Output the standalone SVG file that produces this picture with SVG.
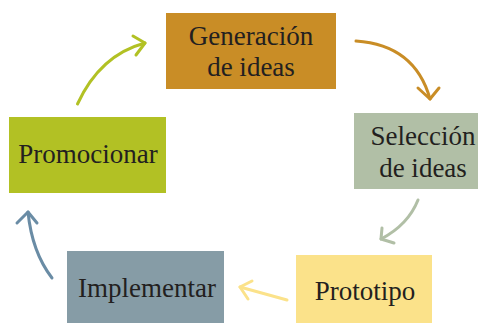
<svg xmlns="http://www.w3.org/2000/svg" width="478" height="323" viewBox="0 0 478 323">
<style>
.c{fill:none;stroke-width:3;stroke-linecap:round;stroke-linejoin:round}
</style>
<rect width="478" height="323" fill="#fff"/>
<g id="connectors">
<g stroke="#B2C124" class="c"><path d="M77.5 104 Q100 55 145 43"/><path d="M133 36 L145 43 L136 55"/></g>
<g stroke="#C98D26" class="c"><path d="M356 41 Q415 45 430 99"/><path d="M418 88 L430 99 L439 88"/></g>
<g stroke="#B1BFA6" class="c"><path d="M418 200 Q408 225 381 239"/><path d="M382 228 L381 239 L394 243"/></g>
<g stroke="#FBE28A" class="c"><path d="M287 300 L240 287"/><path d="M252 281 L240 287 L248 299"/></g>
<g stroke="#6A8CA5" class="c"><path d="M52 278 Q32 252 28 212"/><path d="M17 223 L28 212 L37 223"/></g>
</g>
<g id="generacion"><rect x="166" y="13" width="170" height="76" fill="#C98D26"/><text font-family="Liberation Serif" font-size="27" fill="#231f20" text-anchor="middle" x="251" y="45">Generación</text><text font-family="Liberation Serif" font-size="27" fill="#231f20" text-anchor="middle" x="251" y="76">de ideas</text></g>
<g id="seleccion"><rect x="354" y="113" width="126" height="76" fill="#B1BFA6"/><text font-family="Liberation Serif" font-size="27" fill="#231f20" text-anchor="middle" x="423" y="145">Selección</text><text font-family="Liberation Serif" font-size="27" fill="#231f20" text-anchor="middle" x="423" y="177">de ideas</text></g>
<g id="prototipo"><rect x="296" y="255" width="136" height="70" fill="#FBE28A"/><text font-family="Liberation Serif" font-size="27" fill="#231f20" text-anchor="middle" x="365" y="300">Prototipo</text></g>
<g id="implementar"><rect x="67" y="251" width="157" height="74" fill="#869CA6"/><text font-family="Liberation Serif" font-size="27" fill="#231f20" text-anchor="middle" x="147" y="297">Implementar</text></g>
<g id="promocionar"><rect x="9" y="117" width="157" height="76" fill="#B2C124"/><text font-family="Liberation Serif" font-size="27" fill="#231f20" text-anchor="middle" x="88" y="163">Promocionar</text></g>
</svg>
